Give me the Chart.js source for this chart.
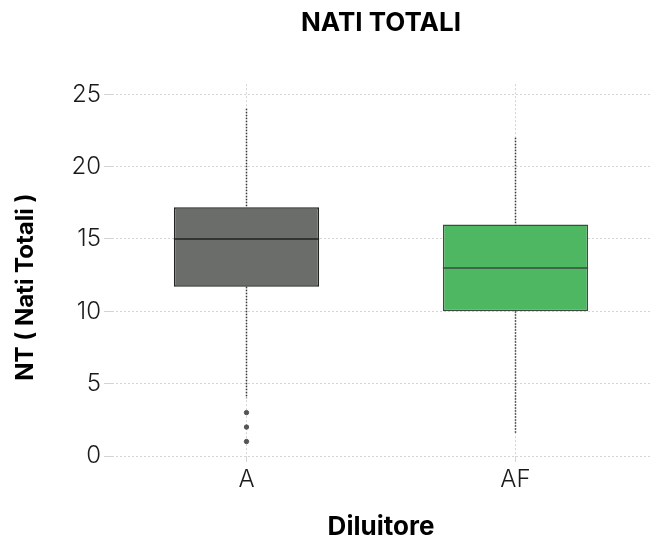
<!DOCTYPE html>
<html>
<head>
<meta charset="utf-8">
<script src="https://cdn.jsdelivr.net/npm/chart.js@4.4.1/dist/chart.umd.min.js"></script>
<style>
  html, body { margin: 0; padding: 0; background: #fff; }
  #wrap { width: 655px; height: 535px; }
</style>
</head>
<body>
<div id="wrap"><canvas id="boxChart"></canvas></div>
<script>
// dati del boxplot
const categories = ['A', 'AF'];
const q1 = [11.7, 10];
const median = [15, 13];
const q3 = [17.2, 16];
const whiskerLow = [4, 1.5];
const whiskerHigh = [24, 22];
const outlierCats = ['A', 'A', 'A'];
const outlierValues = [1, 2, 3];
const yTicks = [0, 5, 10, 15, 20, 25];

const boxColors = ['#6b6d6b', '#4db861'];
const boxBorders = ['#222222', '#3a4d3f'];

// segmenti dei baffi (null = interruzione)
function whiskerData(from, to) {
  const pts = [];
  categories.forEach((c, i) => {
    pts.push({ x: c, y: from[i] }, { x: c, y: to[i] }, { x: c, y: null });
  });
  return pts;
}

const medianPlugin = {
  id: 'medianLines',
  afterDatasetsDraw(chart) {
    const ctx = chart.ctx;
    const y = chart.scales.y;
    chart.getDatasetMeta(0).data.forEach((bar, i) => {
      const py = y.getPixelForValue(median[i]);
      ctx.save();
      ctx.strokeStyle = boxBorders[i];
      ctx.lineWidth = 1.5;
      ctx.beginPath();
      ctx.moveTo(bar.x - bar.width / 2, py);
      ctx.lineTo(bar.x + bar.width / 2, py);
      ctx.stroke();
      ctx.restore();
    });
  }
};

Chart.defaults.font.family = 'Inter';
Chart.defaults.color = '#1a1a1a';

const ctx = document.getElementById('boxChart').getContext('2d');
new Chart(ctx, {
  type: 'bar',
  data: {
    labels: categories,
    datasets: [
      {
        label: 'Box',
        data: categories.map((c, i) => [q1[i], q3[i]]),
        backgroundColor: boxColors,
        borderColor: boxBorders,
        borderWidth: 1.5,
        borderSkipped: false,
        barPercentage: 0.54,
        categoryPercentage: 1,
        order: 0
      },
      {
        type: 'line',
        label: 'Baffo sup',
        data: whiskerData(whiskerHigh, q3),
        borderColor: '#3a3a3a',
        borderWidth: 1.5,
        borderDash: [1.5, 1.5],
        pointRadius: 0,
        spanGaps: false,
        order: 1
      },
      {
        type: 'line',
        label: 'Baffo inf',
        data: whiskerData(q1, whiskerLow),
        borderColor: '#3a3a3a',
        borderWidth: 1.5,
        borderDash: [1.5, 1.5],
        pointRadius: 0,
        spanGaps: false,
        order: 1
      },
      {
        type: 'scatter',
        label: 'Outlier',
        data: outlierCats.map((c, i) => ({ x: c, y: outlierValues[i] })),
        backgroundColor: '#555555',
        borderColor: '#555555',
        pointRadius: 2.2,
        order: 2
      }
    ]
  },
  options: {
    responsive: true,
    maintainAspectRatio: false,
    animation: false,
    layout: { padding: { left: 0, right: 0, top: 0, bottom: 0 } },
    plugins: {
      legend: { display: false },
      tooltip: { enabled: false },
      title: {
        display: true,
        text: 'NATI TOTALI',
        fullSize: false,
        color: '#000',
        font: { size: 26, weight: 'bold' },
        padding: { top: 8, bottom: 45 }
      }
    },
    scales: {
      x: {
        offset: true,
        grid: {
          offset: false,
          color: '#d4d4d4',
          tickLength: 6,
          drawTicks: true
        },
        border: { display: false, dash: [2, 2] },
        ticks: {
          color: '#1a1a1a',
          font: { size: 24, weight: '300' },
          padding: 3
        },
        title: {
          display: true,
          text: 'Diluitore',
          color: '#000',
          font: { size: 26, weight: 'bold' },
          padding: { top: 0, bottom: -8 }
        },
        afterFit(scale) { scale.height = 79; }
      },
      y: {
        min: 0,
        max: 25.7,
        grid: {
          color: '#d4d4d4',
          tickLength: 8,
          tickColor: '#d4d4d4'
        },
        border: { display: false, dash: [2, 2] },
        afterBuildTicks(scale) {
          scale.ticks = yTicks.map(v => ({ value: v }));
        },
        ticks: {
          color: '#1a1a1a',
          font: { size: 24, weight: '300' },
          padding: 3
        },
        title: {
          display: true,
          text: 'NT ( Nati Totali )      ',
          color: '#000',
          font: { size: 24, weight: 'bold' },
          padding: { top: 11, bottom: 0 }
        },
        afterFit(scale) { scale.width = 112; }
      }
    }
  },
  plugins: [medianPlugin]
});
</script>
</body>
</html>
